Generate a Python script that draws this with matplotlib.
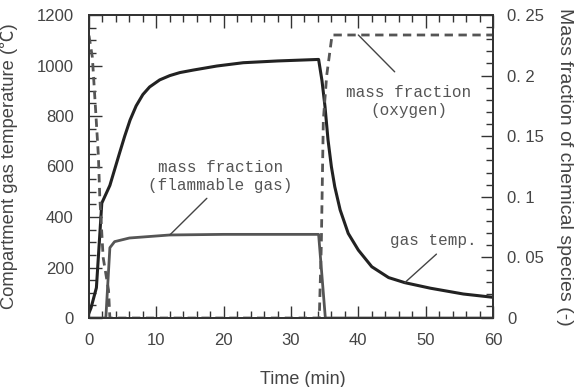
import matplotlib
matplotlib.use('Agg')
import matplotlib.pyplot as plt
from matplotlib.ticker import MultipleLocator, FixedLocator

# 数据：气体温度
t_temp = [0, 0.3, 1.1, 1.9, 3.1, 4.5, 5.3, 6.1, 7, 8, 9, 10.5, 12, 13.5, 15.5, 19, 22.9, 28, 34.1,
          34.6, 35.05, 35.5, 36.0, 36.5, 37.3, 38.5, 40.0, 42.0, 44.5, 46.9, 50.7, 55.6, 60]
temp = [20, 40, 120, 455, 525, 650, 720, 784, 840, 885, 915, 943, 960, 972, 982, 998, 1011, 1018, 1024,
        940, 837, 705, 599, 520, 428, 335, 269, 203, 160, 140, 118, 95, 82]

# 可燃气体质量分数
t_fuel = [0, 2.5, 3.1, 3.8, 6, 12, 20, 34.1, 35.1, 60]
fuel = [0, 0, 0.058, 0.063, 0.066, 0.0685, 0.069, 0.069, 0, 0]

# 氧气质量分数
t_oxy = [0, 0.5, 1.0, 1.4, 1.6, 2.1, 2.9, 3.1, 34.2, 34.5, 34.8, 35.3, 36.1, 60]
oxy = [0.233, 0.215, 0.17, 0.133, 0.10, 0.05, 0.023, 0, 0, 0.06, 0.163, 0.2, 0.2335, 0.2335]

x_ticks = [0, 10, 20, 30, 40, 50, 60]
y1_ticks = [0, 200, 400, 600, 800, 1000, 1200]
y2_ticks = [0, 0.05, 0.1, 0.15, 0.2, 0.25]
y2_labels = ['0', '0. 05', '0. 1', '0. 15', '0. 2', '0. 25']

txt_col = '#444444'
plt.rcParams['font.family'] = ['Liberation Sans', 'Noto Sans CJK JP', 'DejaVu Sans']

fig = plt.figure(figsize=(5.85, 3.87), dpi=100)
ax1 = fig.add_axes([89 / 585, 1 - 318 / 387, 404 / 585, 303 / 387])
ax2 = ax1.twinx()

ax1.plot(t_temp, temp, color='#222222', lw=2.2, solid_joinstyle='round')
ax2.plot(t_fuel, fuel, color='#555555', lw=2.0)
ax2.plot(t_oxy, oxy, color='#555555', lw=2.0, dashes=(3, 2))

ax1.set_xlim(0, 60)
ax1.set_ylim(0, 1200)
ax2.set_ylim(0, 0.25)

ax1.xaxis.set_major_locator(FixedLocator(x_ticks))
ax1.xaxis.set_minor_locator(MultipleLocator(2))
ax1.yaxis.set_major_locator(FixedLocator(y1_ticks))
ax1.yaxis.set_minor_locator(MultipleLocator(50))
ax2.yaxis.set_major_locator(FixedLocator(y2_ticks))
ax2.set_yticklabels(y2_labels)
ax2.yaxis.set_minor_locator(MultipleLocator(0.01))

ax1.tick_params(which='both', direction='in', top=True, right=False, colors='#333333',
                labelcolor=txt_col, labelsize=12)
ax1.tick_params(axis='x', pad=11)
ax1.tick_params(axis='y', pad=11)
ax1.tick_params(which='major', length=9, width=1)
ax1.tick_params(which='minor', length=5, width=1)
ax2.tick_params(which='both', direction='in', colors='#333333', labelcolor=txt_col,
                labelsize=12, pad=10)
ax2.tick_params(which='major', length=9, width=1)
ax2.tick_params(which='minor', length=5, width=1)

for ax in (ax1, ax2):
    for s in ax.spines.values():
        s.set_color('#333333')
        s.set_linewidth(1.3)

ax1.set_xlabel('Time (min)', fontsize=13, color=txt_col)
ax1.xaxis.set_label_coords(0.53, -0.176)
ax1.set_ylabel('Compartment gas temperature (℃)', fontsize=13.2, color=txt_col)
ax1.yaxis.set_label_coords(-0.175, 0.5)
ax2.set_ylabel('Mass fraction of chemical species (-)', fontsize=14, color=txt_col,
               rotation=270, va='center')
ax2.yaxis.set_label_coords(1.178, 0.5)

# 注释
mono = 'Liberation Mono'
ax1.text(19.5, 562, 'mass fraction\n(flammable gas)', ha='center', va='center',
         family=mono, fontsize=11.5, color='#555555', linespacing=1.25)
ax2.annotate('', xy=(12.0, 0.0685), xytext=(17.5, 474 / 1200 * 0.25),
             arrowprops=dict(arrowstyle='-', color='#444444', lw=1, shrinkA=0, shrinkB=0))

ax1.text(47.5, 859, 'mass fraction\n(oxygen)', ha='center', va='center',
         family=mono, fontsize=11.5, color='#555555', linespacing=1.25)
ax2.annotate('', xy=(40.0, 0.2335), xytext=(45.4, 975 / 1200 * 0.25),
             arrowprops=dict(arrowstyle='-', color='#444444', lw=1, shrinkA=0, shrinkB=0))

ax1.text(51.1, 305, 'gas temp.', ha='center', va='center',
         family=mono, fontsize=11.5, color='#555555')
ax1.annotate('', xy=(46.9, 140), xytext=(51.6, 253),
             arrowprops=dict(arrowstyle='-', color='#444444', lw=1, shrinkA=0, shrinkB=0))

fig.savefig('out.png', dpi=100)
